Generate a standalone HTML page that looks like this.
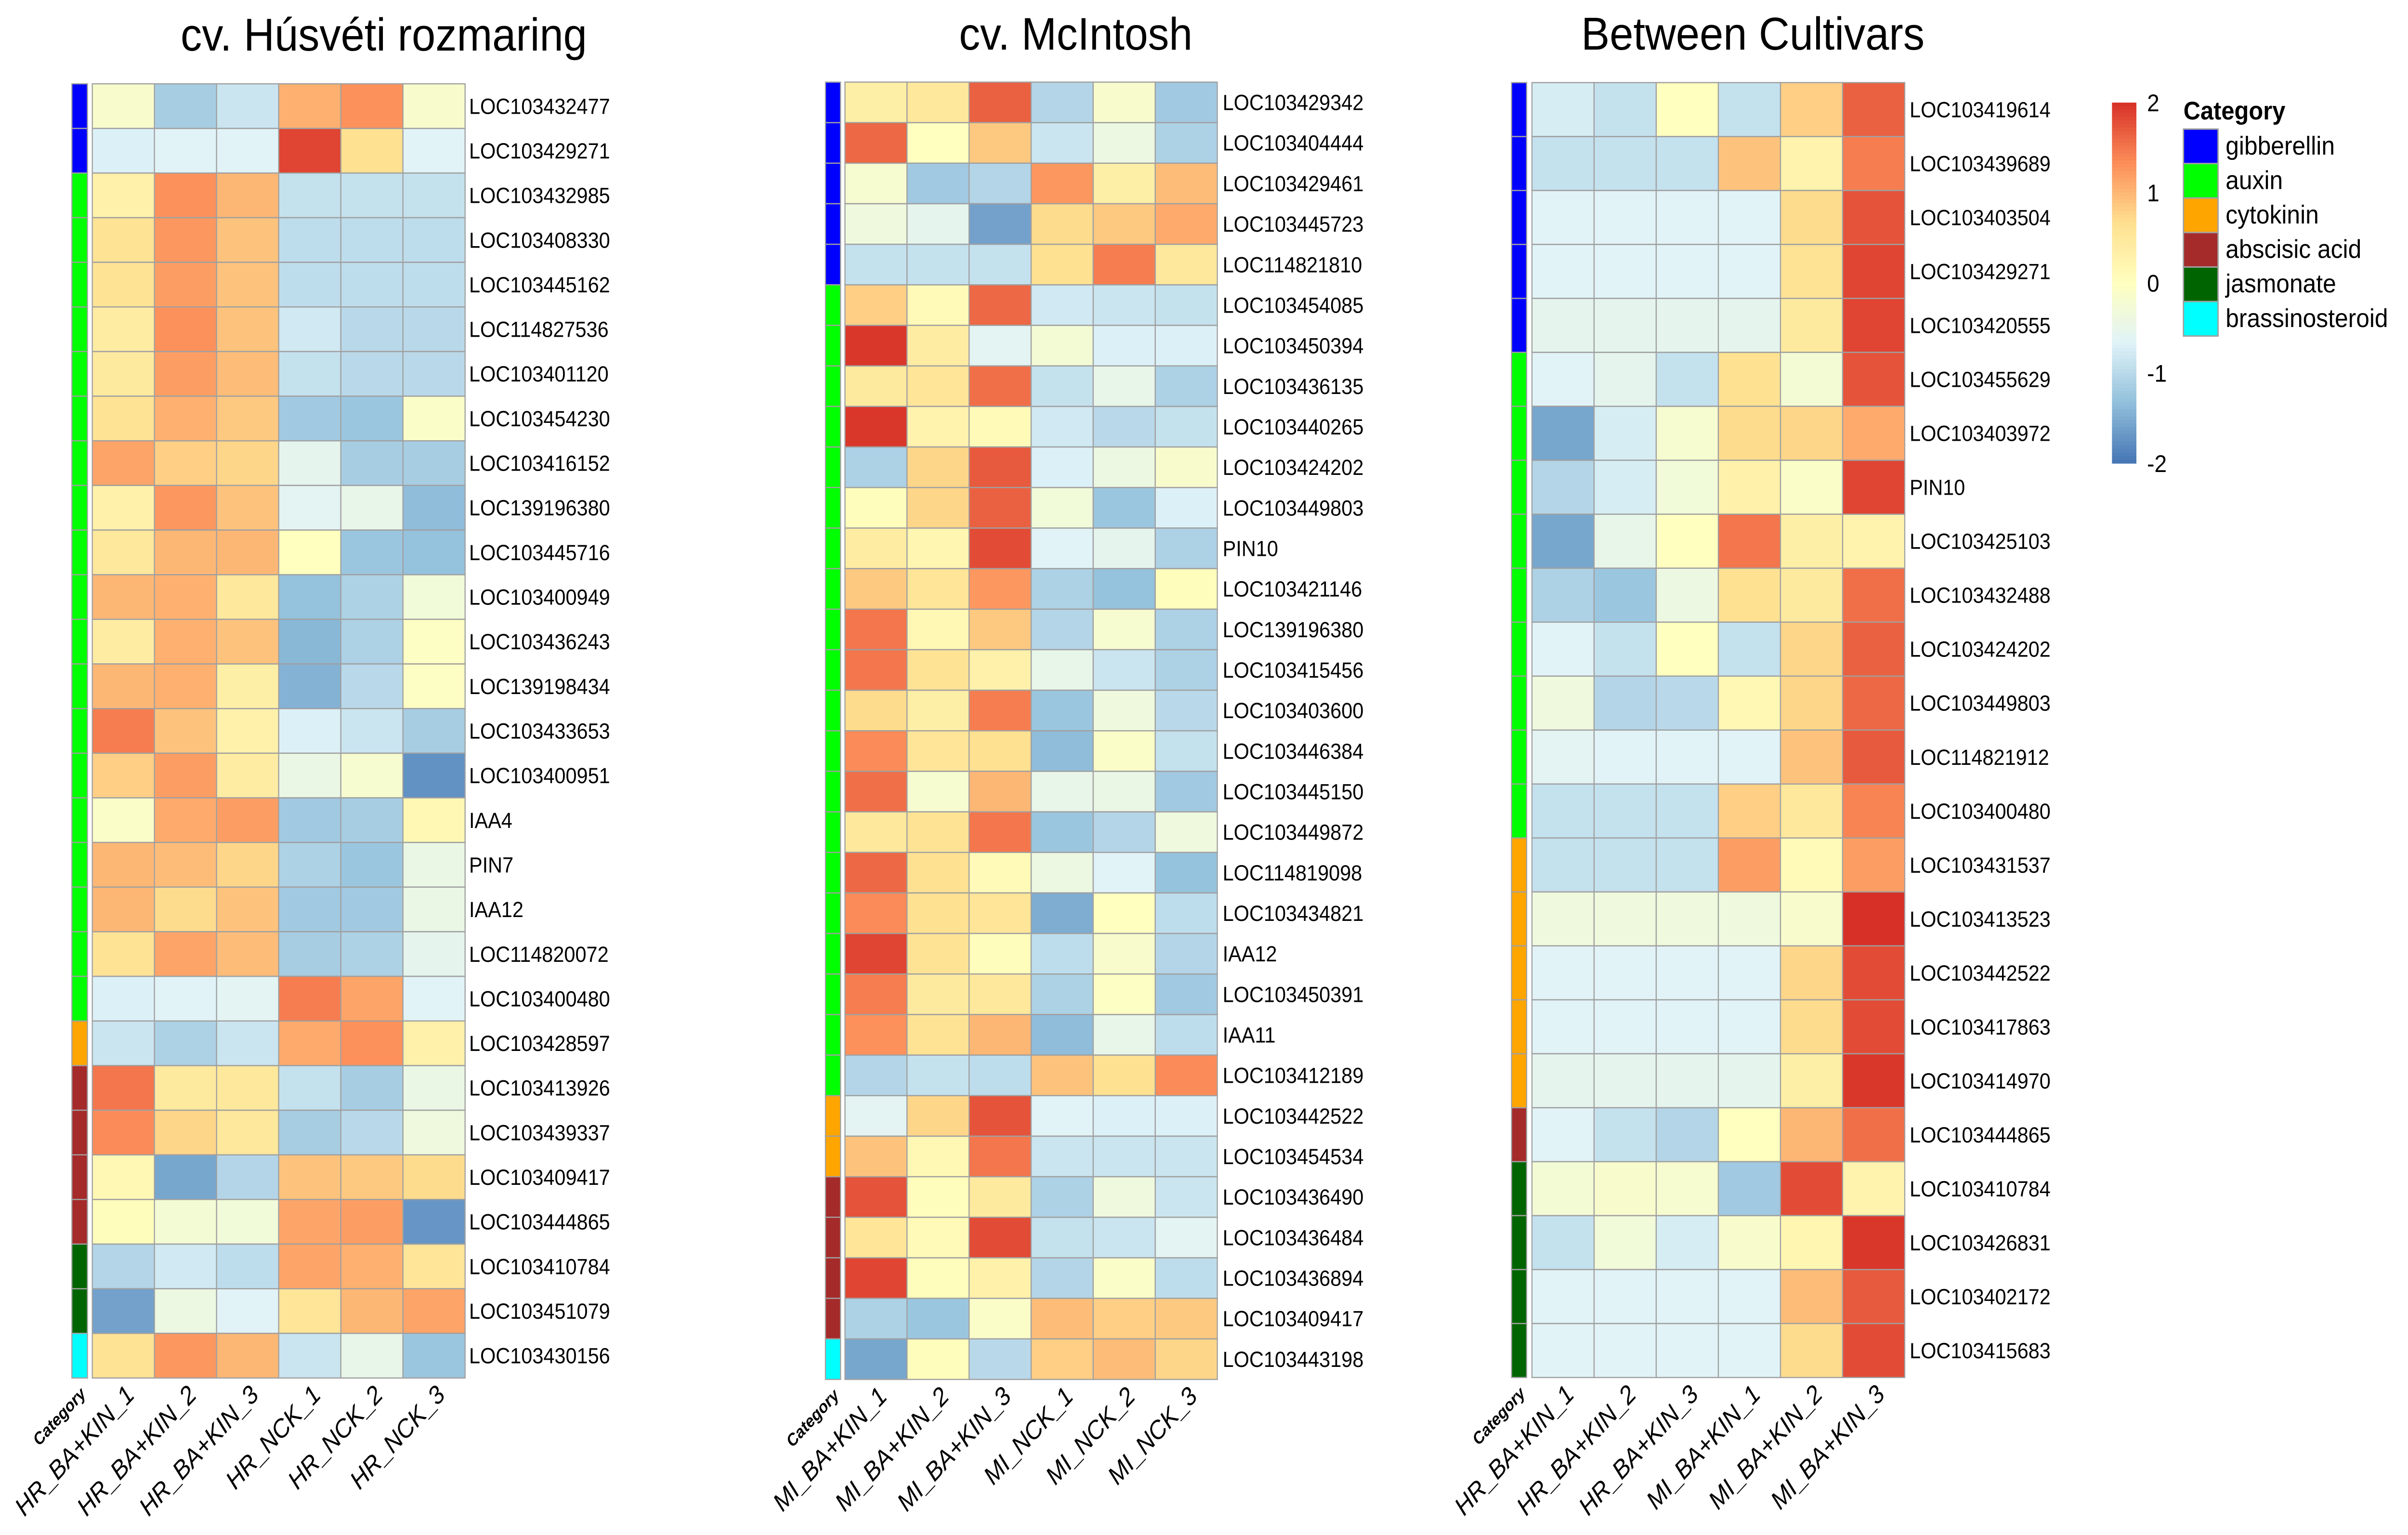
<!DOCTYPE html>
<html lang="en">
<head>
<meta charset="utf-8">
<title>Hormone-related gene expression heatmaps</title>
<style>
html,body{margin:0;padding:0;background:#fff;width:100%;height:100%;overflow:hidden}
svg{display:block;width:100vw;height:100vh}
text{font-family:"Liberation Sans",sans-serif;fill:#000}
</style>
</head>
<body>
<svg id="chart" xmlns="http://www.w3.org/2000/svg" viewBox="0 0 5426 3187" preserveAspectRatio="none">
<rect width="5426" height="3187" fill="#fff"/>
</svg>
<script>
// ---------- shared categories ----------
const categoryNames = ["gibberellin","auxin","cytokinin","abscisic acid","jasmonate","brassinosteroid"];
const categoryColors = ["#0000FF","#00FF00","#FFA500","#A52A2A","#006400","#00FFFF"];
const colorbarTicks = [2,1,0,-1,-2];

// ---------- cv. Húsvéti rozmaring ----------
const hrTitle = "cv. Húsvéti rozmaring";
const hrSamples = ["HR_BA+KIN_1","HR_BA+KIN_2","HR_BA+KIN_3","HR_NCK_1","HR_NCK_2","HR_NCK_3"];
const hrGenes = ["LOC103432477","LOC103429271","LOC103432985","LOC103408330","LOC103445162","LOC114827536","LOC103401120","LOC103454230","LOC103416152","LOC139196380","LOC103445716","LOC103400949","LOC103436243","LOC139198434","LOC103433653","LOC103400951","IAA4","PIN7","IAA12","LOC114820072","LOC103400480","LOC103428597","LOC103413926","LOC103439337","LOC103409417","LOC103444865","LOC103410784","LOC103451079","LOC103430156"];
const hrCategoryCounts = [2,19,1,4,2,1];
const hrValues = [
[-.15,-1.15,-.85,1.05,1.3,-.15],
[-.7,-.65,-.65,1.85,.65,-.65],
[.3,1.3,1.0,-.9,-.9,-.9],
[.6,1.25,.9,-.95,-.95,-.95],
[.6,1.2,.9,-.95,-.95,-.95],
[.4,1.3,.9,-.8,-1.0,-1.0],
[.45,1.2,.95,-.9,-1.0,-1.0],
[.6,1.05,.85,-1.2,-1.25,-.1],
[1.15,.8,.75,-.55,-1.15,-1.15],
[.3,1.25,.9,-.6,-.5,-1.35],
[.5,1.0,1.0,0,-1.25,-1.3],
[1.0,1.05,.5,-1.3,-1.1,-.3],
[.4,1.05,.9,-1.4,-1.1,-.05],
[1.0,1.05,.35,-1.45,-1.0,-.05],
[1.45,.9,.3,-.7,-.85,-1.15],
[.8,1.2,.4,-.45,-.2,-1.75],
[-.1,1.1,1.2,-1.2,-1.15,.15],
[1.0,.95,.75,-1.1,-1.25,-.45],
[1.0,.7,.9,-1.2,-1.2,-.45],
[.6,1.15,.95,-1.15,-1.1,-.55],
[-.7,-.65,-.6,1.45,1.15,-.65],
[-.85,-1.1,-.85,1.1,1.3,.3],
[1.5,.45,.5,-.9,-1.15,-.45],
[1.35,.75,.5,-1.15,-1.0,-.35],
[.15,-1.55,-1.05,.9,.85,.7],
[.05,-.25,-.3,1.15,1.2,-1.7],
[-1.05,-.8,-.95,1.15,1.05,.55],
[-1.6,-.4,-.65,.55,1.0,1.15],
[.6,1.25,1.0,-.85,-.5,-1.25]
];

// ---------- cv. McIntosh ----------
const miTitle = "cv. McIntosh";
const miSamples = ["MI_BA+KIN_1","MI_BA+KIN_2","MI_BA+KIN_3","MI_NCK_1","MI_NCK_2","MI_NCK_3"];
const miGenes = ["LOC103429342","LOC103404444","LOC103429461","LOC103445723","LOC114821810","LOC103454085","LOC103450394","LOC103436135","LOC103440265","LOC103424202","LOC103449803","PIN10","LOC103421146","LOC139196380","LOC103415456","LOC103403600","LOC103446384","LOC103445150","LOC103449872","LOC114819098","LOC103434821","IAA12","LOC103450391","IAA11","LOC103412189","LOC103442522","LOC103454534","LOC103436490","LOC103436484","LOC103436894","LOC103409417","LOC103443198"];
const miCategoryCounts = [5,20,2,4,0,1];
const miValues = [
[.35,.5,1.65,-1.05,-.15,-1.2],
[1.6,0,.85,-.85,-.4,-1.1],
[-.2,-1.2,-1.05,1.25,.35,.95],
[-.35,-.55,-1.6,.7,.85,1.1],
[-.9,-.9,-.9,.65,1.45,.5],
[.8,.1,1.6,-.8,-.85,-.9],
[1.95,.4,-.6,-.25,-.7,-.7],
[.45,.55,1.55,-.9,-.5,-1.1],
[1.95,.25,.1,-.8,-1.0,-.9],
[-1.1,.75,1.7,-.7,-.4,-.15],
[.05,.75,1.65,-.3,-1.25,-.7],
[.4,.2,1.8,-.65,-.55,-1.1],
[.85,.55,1.25,-1.1,-1.3,.05],
[1.5,.15,.85,-1.05,-.2,-1.1],
[1.5,.6,.3,-.5,-.85,-1.1],
[.7,.35,1.45,-1.25,-.35,-1.0],
[1.35,.55,.65,-1.35,-.1,-.9],
[1.55,-.2,1.0,-.5,-.45,-1.2],
[.5,.6,1.5,-1.25,-1.05,-.35],
[1.6,.65,.1,-.4,-.65,-1.3],
[1.35,.65,.55,-1.5,0,-.95],
[1.85,.6,.05,-.95,-.15,-1.05],
[1.45,.45,.5,-1.1,-.05,-1.2],
[1.3,.6,1.0,-1.35,-.5,-.95],
[-1.05,-.9,-.95,.9,.65,1.35],
[-.6,.75,1.75,-.65,-.7,-.7],
[.9,.15,1.5,-.85,-.85,-.85],
[1.75,.05,.45,-1.1,-.35,-.85],
[.55,.1,1.8,-.9,-.85,-.6],
[1.85,.05,.3,-1.05,-.1,-.95],
[-1.1,-1.25,-.1,.95,.8,.85],
[-1.55,.05,-1.0,.8,.95,.75]
];

// ---------- Between Cultivars ----------
const bcTitle = "Between Cultivars";
const bcSamples = ["HR_BA+KIN_1","HR_BA+KIN_2","HR_BA+KIN_3","MI_BA+KIN_1","MI_BA+KIN_2","MI_BA+KIN_3"];
const bcGenes = ["LOC103419614","LOC103439689","LOC103403504","LOC103429271","LOC103420555","LOC103455629","LOC103403972","PIN10","LOC103425103","LOC103432488","LOC103424202","LOC103449803","LOC114821912","LOC103400480","LOC103431537","LOC103413523","LOC103442522","LOC103417863","LOC103414970","LOC103444865","LOC103410784","LOC103426831","LOC103402172","LOC103415683"];
const bcCategoryCounts = [5,9,5,1,4,0];
const bcValues = [
[-.75,-.9,0,-.9,.8,1.65],
[-.9,-.9,-.9,.9,.25,1.45],
[-.65,-.65,-.65,-.65,.7,1.75],
[-.65,-.65,-.65,-.65,.6,1.85],
[-.55,-.55,-.55,-.55,.45,1.85],
[-.65,-.55,-.9,.65,-.25,1.75],
[-1.55,-.75,-.2,.7,.75,1.1],
[-1.05,-.75,-.3,.3,-.1,1.85],
[-1.55,-.5,0,1.5,.35,.25],
[-1.1,-1.25,-.4,.65,.45,1.55],
[-.65,-.9,0,-.9,.75,1.65],
[-.35,-1.05,-1.0,.15,.75,1.6],
[-.6,-.65,-.65,-.65,.9,1.7],
[-.9,-.9,-.9,.8,.5,1.4],
[-.9,-.9,-.9,1.2,.1,1.2],
[-.35,-.35,-.35,-.35,-.15,2.0],
[-.65,-.65,-.65,-.65,.75,1.8],
[-.65,-.65,-.65,-.65,.7,1.8],
[-.55,-.55,-.55,-.55,.35,1.95],
[-.65,-.9,-1.05,0,1.0,1.55],
[-.25,-.15,-.2,-1.2,1.8,.25],
[-.9,-.3,-.75,-.15,.2,1.95],
[-.65,-.65,-.65,-.65,.95,1.7],
[-.65,-.65,-.65,-.65,.7,1.8]
];

// ---------- drawing ----------
const NS = "http://www.w3.org/2000/svg";
const svg = document.getElementById("chart");
const GRID = "#a0a0a0";
const rampStops = [[69,117,180],[145,191,219],[224,243,248],[255,255,191],[254,224,144],[252,141,89],[215,48,39]];

function colorFor(v){
  const t = Math.max(0, Math.min(1, (v + 2) / 4)) * (rampStops.length - 1);
  const i = Math.min(rampStops.length - 2, Math.floor(t));
  const f = t - i;
  const c = rampStops[i].map((a, k) => Math.round(a + (rampStops[i + 1][k] - a) * f));
  return "rgb(" + c.join(",") + ")";
}
function svgRect(parent, x, y, w, h, fill, stroke, sw){
  const r = document.createElementNS(NS, "rect");
  r.setAttribute("x", x);
  r.setAttribute("y", y);
  r.setAttribute("width", w);
  r.setAttribute("height", h);
  r.setAttribute("fill", fill);
  if (stroke) { r.setAttribute("stroke", stroke); r.setAttribute("stroke-width", sw); }
  parent.appendChild(r);
  return r;
}
function svgText(parent, str, x, y, size){
  const t = document.createElementNS(NS, "text");
  t.setAttribute("x", x);
  t.setAttribute("y", y);
  t.setAttribute("font-size", size);
  t.textContent = str;
  parent.appendChild(t);
  return t;
}
function svgGroup(parent){
  const g = document.createElementNS(NS, "g");
  parent.appendChild(g);
  return g;
}

function drawPanel(cfg){
  const panel = svgGroup(svg);
  
  
  const nRows = cfg.genes.length, nCols = cfg.samples.length;
  const xScale = c => cfg.left + (cfg.right - cfg.left) * c / nCols;
  const yScale = r => cfg.top + (cfg.bottom - cfg.top) * r / nRows;

  const title = svgText(panel, cfg.title, cfg.titleX, cfg.titleY, cfg.titleSize);
  
  

  // category annotation strip
  let row = 0;
  cfg.categoryCounts.forEach((count, ci) => {
    for (let k = 0; k < count; k++, row++) {
      const a = svgRect(panel, cfg.annLeft, yScale(row), cfg.annRight - cfg.annLeft, yScale(row + 1) - yScale(row), categoryColors[ci], GRID, 2.5);
      
      
    }
  });

  // heatmap cells
  cfg.values.forEach((vals, r) => {
    vals.forEach((v, c) => {
      const cell = svgRect(panel, xScale(c), yScale(r), xScale(c + 1) - xScale(c), yScale(r + 1) - yScale(r), colorFor(v), GRID, 2.5);
      
      
    });
  });

  // gene labels
  cfg.genes.forEach((g, r) => {
    const y = (yScale(r) + yScale(r + 1)) / 2 + 16;
    const lab = svgText(panel, g, cfg.labelX, y, 45);
    
    
  });

  // sample labels
  cfg.samples.forEach((s, c) => {
    const cx = (xScale(c) + xScale(c + 1)) / 2 + 28;
    const cy = cfg.bottom + 38;
    const lab = svgText(panel, s, cx, cy, 53);
    lab.setAttribute("text-anchor", "end");
    lab.setAttribute("font-style", "italic");
    lab.setAttribute("transform", "rotate(-45 " + cx + " " + cy + ")");
    
    
  });

  // category column label
  const ax = (cfg.annLeft + cfg.annRight) / 2 + 16;
  const ay = cfg.bottom + 35;
  const catLab = svgText(panel, "Category", ax, ay, 35);
  catLab.setAttribute("text-anchor", "end");
  catLab.setAttribute("font-style", "italic");
  catLab.setAttribute("font-weight", "bold");
  catLab.setAttribute("transform", "rotate(-45 " + ax + " " + ay + ")");
  
  
}

drawPanel({key:"hr", title:hrTitle, samples:hrSamples, genes:hrGenes, categoryCounts:hrCategoryCounts, values:hrValues,
  left:208, right:1048, top:174, bottom:2861, annLeft:162, annRight:197, labelX:1057, titleX:407, titleY:105, titleSize:96});
drawPanel({key:"mi", title:miTitle, samples:miSamples, genes:miGenes, categoryCounts:miCategoryCounts, values:miValues,
  left:1904, right:2743, top:170.5, bottom:2864, annLeft:1860, annRight:1894, labelX:2755, titleX:2161, titleY:103, titleSize:95});
drawPanel({key:"bc", title:bcTitle, samples:bcSamples, genes:bcGenes, categoryCounts:bcCategoryCounts, values:bcValues,
  left:3452, right:4292, top:171.5, bottom:2860, annLeft:3406, annRight:3440, labelX:4303, titleX:3563, titleY:103, titleSize:96});

// ---------- colour bar ----------
const barGroup = svgGroup(svg);


const barTop = 213, barBottom = 962, barLeft = 4759, barWidth = 55, barSteps = 100;
const barY = v => barTop + (2 - v) / 4 * (barBottom - barTop);
for (let i = 0; i < barSteps; i++) {
  const hi = 2 - 4 * i / barSteps;
  const lo = 2 - 4 * (i + 1) / barSteps;
  const seg = svgRect(barGroup, barLeft, barY(hi), barWidth, barY(lo) - barY(hi) + 0.6, colorFor((hi + lo) / 2));
  
  
}
colorbarTicks.forEach(t => {
  const lab = svgText(barGroup, String(t), 4838, barY(t) + 18, 50);
  
  
});

// ---------- category legend ----------
const legendGroup = svgGroup(svg);


const legendTitle = svgText(legendGroup, "Category", 4920, 248, 53);
legendTitle.setAttribute("font-weight", "bold");


const swatchTop = 268, swatchH = 71.6;
categoryNames.forEach((name, i) => {
  const sw = svgRect(legendGroup, 4920, swatchTop + i * swatchH, 78, swatchH, categoryColors[i], GRID, 3);
  
  
  const lab = svgText(legendGroup, name, 5015, swatchTop + i * swatchH + swatchH / 2 + 17, 54);
  
  
});
</script>
</body>
</html>
